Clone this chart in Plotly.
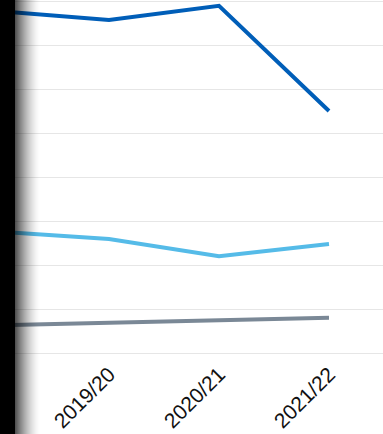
import plotly.graph_objects as go

# Financial years on the x axis
years = ["2018/19", "2019/20", "2020/21", "2021/22"]

# Series values
series_a = [77.7, 75.7, 78.9, 55.0]
series_b = [27.6, 25.9, 22.0, 24.8]
series_c = [6.3, 6.8, 7.3, 8.0]

W, H = 383, 434

fig = go.Figure()
for vals, colour in [(series_c, "#7A8896"), (series_b, "#55BBE8"), (series_a, "#005EB8")]:
    fig.add_trace(go.Scatter(
        x=years, y=vals, mode="lines",
        line=dict(color=colour, width=4),
        hoverinfo="skip", showlegend=False,
    ))

# Dark edge with a soft shadow fading into the plot
shapes = [dict(type="rect", xref="paper", yref="paper", x0=0, x1=15 / W,
               y0=-1, y1=2, fillcolor="black", line=dict(width=0), layer="above")]
steps = 25
for i in range(steps):
    x0 = 15 + i
    alpha = 0.68 * (1 - i / steps) ** 1.6
    shapes.append(dict(type="rect", xref="paper", yref="paper",
                       x0=x0 / W, x1=(x0 + 1) / W, y0=-1, y1=2,
                       fillcolor="black", opacity=alpha,
                       line=dict(width=0), layer="above"))

fig.update_layout(
    width=W, height=H,
    margin=dict(l=0, r=0, t=0, b=71),
    paper_bgcolor="white", plot_bgcolor="white",
    font=dict(family="Liberation Sans, Arial, sans-serif", size=16, color="#111111"),
    shapes=shapes,
    xaxis=dict(
        type="category", range=[0.009, 3.491], automargin=False,
        tickangle=-45, showgrid=False, zeroline=False, showline=False,
        ticks="", tickfont=dict(size=21), ticklabelstandoff=-6,
    ),
    yaxis=dict(
        range=[-2.27, 80.23], tick0=0, dtick=10, showticklabels=False,
        automargin=False,
        gridcolor="#e6e6e6", gridwidth=1, zeroline=False, showline=False,
    ),
)

fig.write_html("out.html")
